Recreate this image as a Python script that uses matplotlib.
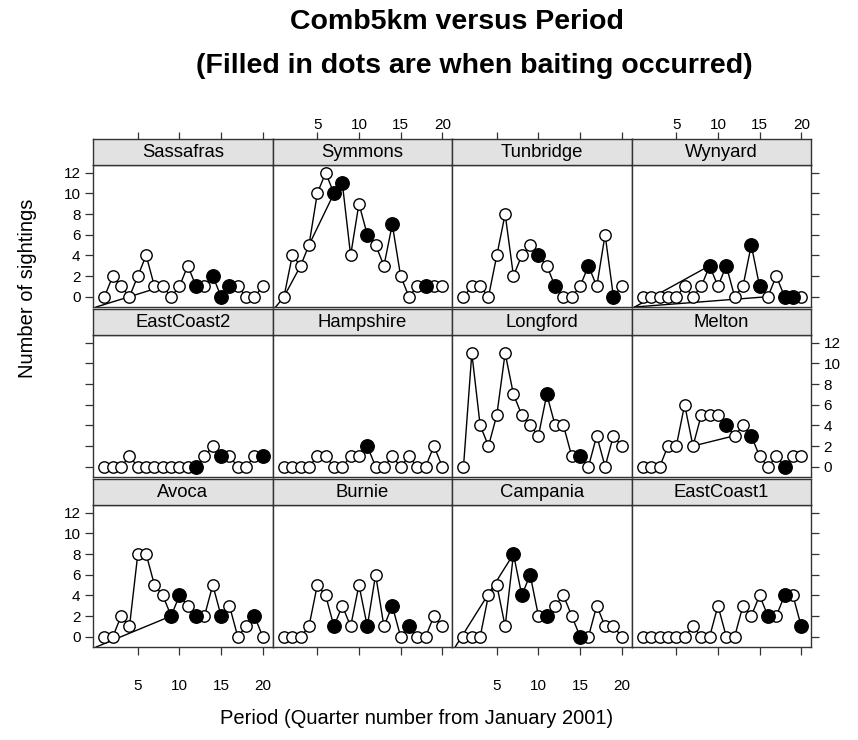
import matplotlib
matplotlib.use("Agg")
import matplotlib.pyplot as plt
import numpy as np

plt.rcParams['font.family'] = ['Liberation Sans', 'DejaVu Sans']

periods = list(range(1, 21))

site_rows = [
    ["Sassafras", "Symmons", "Tunbridge", "Wynyard"],
    ["EastCoast2", "Hampshire", "Longford", "Melton"],
    ["Avoca", "Burnie", "Campania", "EastCoast1"],
]

Sassafras = [0, 2, 1, 0, 2, 4, 1, 1, 0, 1, 3, 1, 1, 2, 0, 1, 1, 0, 0, 1]
Symmons = [0, 4, 3, 5, 10, 12, 10, 11, 4, 9, 6, 5, 3, 7, 2, 0, 1, 1, 1, 1]
Tunbridge = [0, 1, 1, 0, 4, 8, 2, 4, 5, 4, 3, 1, 0, 0, 1, 3, 1, 6, 0, 1]
Wynyard = [0, 0, 0, 0, 0, 1, 0, 1, 3, 1, 3, 0, 1, 5, 1, 0, 2, 0, 0, 0]
EastCoast2 = [0, 0, 0, 1, 0, 0, 0, 0, 0, 0, 0, 0, 1, 2, 1, 1, 0, 0, 1, 1]
Hampshire = [0, 0, 0, 0, 1, 1, 0, 0, 1, 1, 2, 0, 0, 1, 0, 1, 0, 0, 2, 0]
Longford = [0, 11, 4, 2, 5, 11, 7, 5, 4, 3, 7, 4, 4, 1, 1, 0, 3, 0, 3, 2]
Melton = [0, 0, 0, 2, 2, 6, 2, 5, 5, 5, 4, 3, 4, 3, 1, 0, 1, 0, 1, 1]
Avoca = [0, 0, 2, 1, 8, 8, 5, 4, 2, 4, 3, 2, 2, 5, 2, 3, 0, 1, 2, 0]
Burnie = [0, 0, 0, 1, 5, 4, 1, 3, 1, 5, 1, 6, 1, 3, 0, 1, 0, 0, 2, 1]
Campania = [0, 0, 0, 4, 5, 1, 8, 4, 6, 2, 2, 3, 4, 2, 0, 0, 3, 1, 1, 0]
EastCoast1 = [0, 0, 0, 0, 0, 0, 1, 0, 0, 3, 0, 0, 3, 2, 4, 2, 2, 4, 4, 1]

counts = {
    "Sassafras": Sassafras, "Symmons": Symmons, "Tunbridge": Tunbridge,
    "Wynyard": Wynyard, "EastCoast2": EastCoast2, "Hampshire": Hampshire,
    "Longford": Longford, "Melton": Melton, "Avoca": Avoca, "Burnie": Burnie,
    "Campania": Campania, "EastCoast1": EastCoast1,
}

baited = {
    "Sassafras": [12, 14, 15, 16], "Symmons": [7, 8, 11, 14, 18],
    "Tunbridge": [10, 12, 16, 19], "Wynyard": [9, 11, 14, 15, 18, 19],
    "EastCoast2": [12, 15, 20], "Hampshire": [11], "Longford": [11, 15],
    "Melton": [11, 14, 18], "Avoca": [9, 10, 12, 15, 19],
    "Burnie": [7, 11, 14, 16], "Campania": [7, 8, 9, 11, 15],
    "EastCoast1": [16, 18, 20],
}

# rows out of period order in the source data (0 = a row at period 0, value -1)
origin_period, origin_value = 0, -1
extra_links = {
    "Sassafras": [(0, 8)], "Symmons": [(0, 1), (1, 3), (4, 7)],
    "Wynyard": [(0, 9), (0, 16)], "Melton": [(7, 12)],
    "Avoca": [(0, 9)], "Campania": [(0, 7)],
}

y_ticks = [0, 2, 4, 6, 8, 10, 12]
x_ticks = [5, 10, 15, 20]

W, H = 858, 740
fig = plt.figure(figsize=(W / 100, H / 100), dpi=100)

col_left = [93, 272.5, 452, 631.5]
panel_w = 179.5
panel_top = [165, 335, 505]
panel_h = 141.7
strip_h = 26

xlim = (-0.38, 21.17)
ylim = (-0.97, 12.75)

TICK_FS = 11

def fx(px):
    return px / W

def fy(py):
    return 1 - py / H

for r, row in enumerate(site_rows):
    for c, site in enumerate(row):
        ax = fig.add_axes([fx(col_left[c]), fy(panel_top[r] + panel_h),
                           panel_w / W, panel_h / H])
        vals = counts[site]
        ax.plot(periods, vals, color='black', lw=1.0, zorder=1, clip_on=True)
        lookup = dict(zip(periods, vals))
        lookup[origin_period] = origin_value
        for a, b in extra_links.get(site, []):
            ax.plot([a, b], [lookup[a], lookup[b]], color='black', lw=1.0,
                    zorder=1, clip_on=True)
        bx = [p for p in periods if p in baited[site]]
        by = [lookup[p] for p in bx]
        ox = [p for p in periods if p not in baited[site]]
        oy = [lookup[p] for p in ox]
        ax.plot(ox, oy, 'o', ms=8.2, mfc='white', mec='black', mew=1.0,
                zorder=2, clip_on=False)
        ax.plot(bx, by, 'o', ms=9.7, mfc='black', mec='black', mew=1.0,
                zorder=3, clip_on=False)
        ax.set_xlim(*xlim)
        ax.set_ylim(*ylim)
        for s in ax.spines.values():
            s.set_color('#333333')
            s.set_linewidth(1.0)
        ax.set_xticks(x_ticks)
        ax.set_yticks(y_ticks)
        ax.tick_params(axis='both', direction='out', length=6, width=0.9,
                       colors='#333333', labelcolor='black', labelsize=TICK_FS,
                       pad=2)
        bottom_on = (r == 2)
        ax.tick_params(axis='x', bottom=bottom_on,
                       labelbottom=bottom_on and c % 2 == 0,
                       top=False, labeltop=False, pad=17)
        left_on = (c == 0)
        right_on = (c == 3)
        ax.tick_params(axis='y', left=left_on, labelleft=left_on and r % 2 == 0,
                       right=right_on, labelright=right_on and r % 2 == 1,
                       pad=3)

        # strip
        sax = fig.add_axes([fx(col_left[c]), fy(panel_top[r]),
                            panel_w / W, strip_h / H])
        sax.set_facecolor('#e2e2e2')
        sax.set_xlim(*xlim)
        sax.set_xticks(x_ticks)
        sax.set_yticks([])
        for s in sax.spines.values():
            s.set_color('#333333')
            s.set_linewidth(1.0)
        sax.text(0.5, 0.47, site, transform=sax.transAxes, ha='center',
                 va='center', fontsize=13.3, color='black')
        if r == 0:
            sax.tick_params(axis='x', direction='out', length=5, width=0.9,
                            colors='#333333', labelcolor='black',
                            labelsize=TICK_FS, bottom=False, labelbottom=False,
                            top=True, labeltop=(c % 2 == 1), pad=0)
        else:
            sax.tick_params(axis='x', bottom=False, labelbottom=False,
                            top=False, labeltop=False)

fig.text(fx(457), fy(22), "Comb5km versus Period", ha='center', va='center',
         fontsize=20.5, fontweight='bold')
fig.text(fx(474), fy(66), "(Filled in dots are when baiting occurred)",
         ha='center', va='center', fontsize=20.5, fontweight='bold')
fig.text(fx(417), fy(718), "Period (Quarter number from January 2001)",
         ha='center', va='center', fontsize=14.5)
fig.text(fx(28), fy(288), "Number of sightings", ha='center', va='center',
         rotation=90, fontsize=14.5)

fig.savefig("out.png", dpi=100, facecolor='white')
